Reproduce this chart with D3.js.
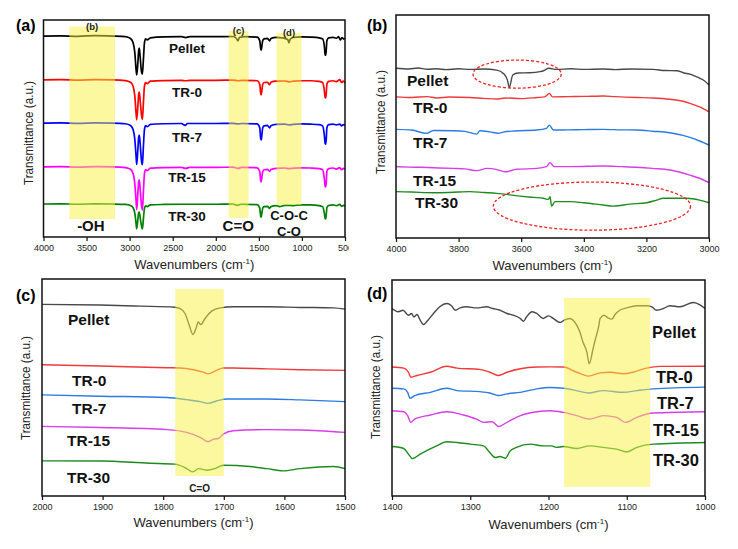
<!DOCTYPE html>
<html><head><meta charset="utf-8">
<script src="https://cdn.jsdelivr.net/npm/d3@7"></script>
<style>
body{margin:0;background:#fff;}
text{font-family:"Liberation Sans",Arial,sans-serif;}
</style></head>
<body><svg id="c" width="738" height="549"></svg>
<script>
// ---------- DATA ----------
const seriesNames = ["Pellet","TR-0","TR-7","TR-15","TR-30"];
// Panel (a): full spectrum 4000-500 cm-1
const aTicks = [4000,3500,3000,2500,2000,1500,1000,500];
const aPellet = [[4000,92.6],[3800,92.7],[3600,92.5],[3400,92.8],[3200,92.6],[3050,92.3],[2990,91.5],[2960,89.5],[2940,85],[2925,77],[2918,74.7],[2905,80],[2895,86],[2888,87],[2878,83],[2862,76],[2852,75.1],[2840,82],[2828,89.5],[2815,91.3],[2795,90.8],[2760,91.8],[2600,92.2],[2400,92.3],[2350,91.9],[2300,92.3],[2000,92.3],[1800,92.4],[1760,91.5],[1742,90.4],[1725,92],[1650,92.3],[1520,92.1],[1490,90.5],[1478,86.6],[1472,86.1],[1465,88],[1455,90.5],[1440,91.3],[1400,91.5],[1375,90.4],[1360,91.5],[1300,92],[1230,91.8],[1190,91.4],[1165,91],[1150,89.5],[1138,91],[1100,92],[1000,92.2],[900,92.1],[800,91.8],[760,91.3],[740,88],[730,84],[724,83.8],[718,86],[710,90.5],[690,91.8],[640,92],[600,91.6],[575,92.3],[555,90.8],[535,91.9],[515,91.2],[500,91.6]];
const aTR0 = [[4000,72.4],[3800,72.5],[3600,72.3],[3400,72.5],[3200,72.4],[3050,72.1],[2990,71.3],[2960,69.5],[2940,65],[2925,57],[2918,54],[2905,60],[2895,66],[2888,66.8],[2878,63],[2862,56],[2852,54.2],[2840,62],[2828,69.5],[2815,71.2],[2795,70.7],[2760,71.8],[2600,72.1],[2400,72.2],[2350,72.0],[2300,72.2],[2000,72.2],[1800,72.3],[1740,72.0],[1700,72.2],[1520,72.0],[1490,70.4],[1478,66],[1472,65.5],[1465,67.5],[1455,70.4],[1440,71.2],[1400,71.3],[1375,70.2],[1360,71.3],[1300,71.8],[1200,71.9],[1150,71.5],[1100,71.8],[1000,72],[900,72],[800,71.7],[760,71.2],[740,67.5],[730,64.2],[724,64.1],[718,66],[710,70.5],[690,71.7],[640,72],[600,71.6],[560,72.5],[540,71.2],[520,71.8],[500,71.0]];
const aTR7 = [[4000,52.5],[3800,52.6],[3600,52.4],[3400,52.6],[3200,52.5],[3050,52.2],[2990,51.4],[2960,49.5],[2940,45],[2925,37],[2918,33.4],[2905,40],[2895,46],[2888,47],[2878,43],[2862,35],[2852,33.3],[2840,42],[2828,49.5],[2815,51.3],[2795,50.8],[2760,51.9],[2600,52.2],[2400,52.3],[2355,51.4],[2330,52.3],[2000,52.3],[1800,52.4],[1740,52.1],[1700,52.3],[1520,52.1],[1490,50.3],[1478,45.2],[1472,44.7],[1465,47],[1455,50.3],[1440,51.2],[1400,51.4],[1375,50.3],[1360,51.3],[1300,51.9],[1200,52],[1150,51.7],[1100,51.9],[1000,52.1],[900,52],[800,51.8],[760,51.2],[740,47],[730,43],[724,42.8],[718,45],[710,50.5],[690,51.8],[640,52],[600,51.7],[560,52],[540,51.2],[520,51.8],[500,51.5]];
const aTR15 = [[4000,32.3],[3800,32.4],[3600,32.2],[3400,32.4],[3200,32.3],[3050,32.0],[2990,31.2],[2960,29.3],[2940,24.5],[2925,16.5],[2918,12.6],[2905,20],[2895,25.5],[2888,26.3],[2878,22],[2862,14.5],[2852,12.4],[2840,21],[2828,29.2],[2815,31.1],[2795,30.6],[2760,31.7],[2600,32],[2400,32.1],[2350,31.6],[2300,32.1],[2000,32.1],[1800,32.2],[1740,31.6],[1700,32.1],[1520,31.9],[1490,30.2],[1478,25.8],[1472,25.4],[1465,27.5],[1455,30.2],[1440,31],[1400,31.2],[1375,30.2],[1360,31.1],[1300,31.6],[1200,31.8],[1150,31.5],[1100,31.7],[1000,31.9],[900,31.8],[800,31.5],[760,31],[740,27],[730,23.3],[724,23.1],[718,25],[710,30.3],[690,31.5],[640,31.8],[600,31.3],[560,32],[540,31],[520,31.6],[500,31.3]];
const aTR30 = [[4000,15.2],[3800,15.3],[3600,15.1],[3400,15.3],[3200,15.2],[3050,15.0],[2990,14.5],[2960,13.5],[2940,11],[2925,6],[2918,3.8],[2905,8],[2895,11.2],[2888,11.5],[2878,9],[2862,5],[2852,3.7],[2840,8.5],[2828,13.2],[2815,14.3],[2795,14],[2760,14.8],[2600,15],[2400,15.1],[2000,15.1],[1800,15.2],[1750,14.6],[1725,14.9],[1700,15.1],[1520,14.9],[1490,13.3],[1478,9.5],[1472,9.2],[1465,11],[1455,13.3],[1440,14],[1400,14.1],[1375,13.2],[1360,14],[1300,14.5],[1260,14.0],[1200,14.6],[1100,14.5],[1000,14.8],[900,14.8],[800,14.5],[760,14],[740,11],[730,8.5],[724,8.3],[718,10],[710,13.6],[690,14.5],[640,14.8],[600,14.4],[560,15],[540,14.1],[520,14.6],[500,14.3]];
const aBands = [[3700,3170,97,8.3],[1850,1620,95,8.8],[1295,1005,94,14.7]]; // [from, to, top a.u., bottom a.u.]
const aBandTags = ["(b)","(c)","(d)"];
const aGroupLabels = [["-OH",3450,2.8],["C=O",1740,2.8],["C-O-C",1150,7.9],["C-O",1150,0.4]]; // [text, cm-1, a.u. of baseline]

// Panel (b): 4000-3000 cm-1
const bTicks = [4000,3800,3600,3400,3200,3000];
const bPellet = [[4000,76.1],[3960,75.8],[3930,76.2],[3900,75.7],[3870,75.9],[3840,75.5],[3800,75.9],[3764,75.6],[3720,75.8],[3678,75.3],[3657,73.8],[3644,70.8],[3638,67.5],[3627,73.1],[3610,74.0],[3572,74.1],[3540,74.6],[3529,75.0],[3512,76.1],[3487,75.6],[3440,75.9],[3400,75.6],[3338,75.8],[3300,75.5],[3250,75.8],[3179,75.6],[3140,75.1],[3103,75.0],[3080,74.0],[3061,73.5],[3045,72.6],[3029,71.6],[3015,70.5],[3000,68.6]];
const bTR0 = [[4000,63.3],[3950,63.0],[3900,63.4],[3870,62.8],[3830,63.2],[3764,63.0],[3720,62.6],[3678,62.3],[3650,62.8],[3600,62.5],[3550,63.0],[3525,63.3],[3510,64.8],[3500,63.3],[3450,63.4],[3400,63.5],[3338,63.7],[3300,63.4],[3231,63.0],[3180,62.8],[3125,62.2],[3080,61.2],[3061,60.4],[3030,58.8],[3000,56.6]];
const bTR7 = [[4000,48.7],[3950,48.4],[3902,46.9],[3880,48.2],[3817,48.1],[3780,47.8],[3742,46.6],[3732,48.1],[3700,47.6],[3673,47.0],[3657,47.5],[3620,48.0],[3550,48.4],[3519,49.2],[3510,50.6],[3497,48.4],[3450,48.5],[3400,48.6],[3338,48.7],[3280,48.5],[3231,48.4],[3180,47.9],[3125,47.2],[3061,45.1],[3030,43.5],[3000,41.7]];
const bTR15 = [[4000,32.0],[3960,31.8],[3923,31.7],[3880,31.5],[3817,31.2],[3780,31.0],[3742,30.2],[3710,31.2],[3680,30.8],[3652,29.7],[3614,30.8],[3550,31.2],[3519,32.0],[3508,33.8],[3495,32.0],[3440,32.0],[3338,32.3],[3280,32.0],[3231,31.7],[3180,31.2],[3125,30.5],[3061,28.2],[3030,26.8],[3000,24.8]];
const bTR30 = [[4000,20.8],[3950,20.6],[3870,20.3],[3800,20.6],[3764,20.8],[3720,20.4],[3678,20.0],[3604,18.8],[3560,18.2],[3529,17.8],[3513,17.3],[3508,18.5],[3503,14.3],[3492,16.3],[3444,16.3],[3400,15.8],[3338,14.8],[3306,14.3],[3252,15.2],[3199,15.8],[3167,17.0],[3146,17.8],[3071,17.8],[3030,17.0],[3000,15.8]];
const bEllipses = [[3613,141,73.5,6.3],[3374,315,14.3,10.8]]; // [centre cm-1, half-width cm-1, centre a.u., half-height a.u.]

// Panel (c): 2000-1500 cm-1
const cTicks = [2000,1900,1800,1700,1600,1500];
const cPellet = [[2000,88.3],[1904,88.0],[1838,87.5],[1781,87.0],[1772,86.4],[1764,84.1],[1757,78.7],[1751,74.4],[1746,77.2],[1742,80.2],[1738,79.0],[1731,81.8],[1720,85.2],[1706,86.7],[1684,87.2],[1629,87.2],[1574,86.9],[1519,86.7],[1500,86.1]];
const cTR0 = [[2000,60.5],[1904,59.9],[1794,59.1],[1772,59.0],[1750,58.2],[1734,57.1],[1726,56.3],[1712,57.9],[1701,59.0],[1684,59.0],[1629,58.6],[1574,58.2],[1500,57.9]];
const cTR7 = [[2000,46.6],[1904,46.0],[1794,45.4],[1761,44.4],[1739,43.5],[1726,42.7],[1712,43.8],[1695,44.7],[1629,44.7],[1574,44.3],[1500,43.5]];
const cTR15 = [[2000,32.1],[1904,31.6],[1794,30.6],[1761,29.3],[1739,27.0],[1726,25.0],[1717,26.2],[1709,26.5],[1701,28.5],[1684,30.1],[1629,30.6],[1574,30.4],[1500,29.3]];
const cTR30 = [[2000,16.2],[1904,16.1],[1822,15.1],[1781,14.7],[1764,13.1],[1751,11.1],[1742,12.6],[1728,11.9],[1715,12.6],[1701,14.2],[1657,13.6],[1629,12.6],[1602,11.6],[1574,12.6],[1519,13.6],[1500,12.6]];
const cBand = [1780,1700,95.4,9.2];

// Panel (d): 1400-1000 cm-1
const dTicks = [1400,1300,1200,1100,1000];
const dPellet = [[1400,86.8],[1392,85.3],[1386,86.0],[1379,83.7],[1375,84.5],[1372,82.9],[1368,84.0],[1364,81.4],[1360,79.4],[1354,81.4],[1347,84.5],[1339,87.6],[1330,89.1],[1324,88.1],[1319,86.0],[1313,87.1],[1305,87.6],[1292,87.1],[1279,87.6],[1271,86.8],[1262,86.0],[1253,84.5],[1245,83.7],[1236,82.2],[1232,80.9],[1228,83.0],[1221,85.3],[1215,84.5],[1207,82.2],[1200,83.4],[1194,82.2],[1185,80.3],[1180,81.4],[1173,82.2],[1164,79.1],[1160,76.0],[1156,71.3],[1151,66.7],[1148,61.2],[1143,68.2],[1141,71.3],[1136,78.3],[1134,82.2],[1129,83.7],[1124,82.5],[1119,81.9],[1115,84.0],[1109,86.0],[1100,87.1],[1087,88.1],[1075,88.1],[1068,87.6],[1062,86.0],[1053,86.8],[1045,88.1],[1032,87.6],[1015,89.6],[1006,88.4],[1000,86.8]];
const dTR0 = [[1400,59.7],[1385,59.2],[1379,57.3],[1376,55.0],[1368,55.8],[1351,57.3],[1330,60.1],[1317,59.2],[1288,58.6],[1275,57.3],[1264,55.8],[1253,57.3],[1236,58.9],[1215,59.7],[1198,59.8],[1181,59.7],[1164,57.3],[1149,55.5],[1134,57.0],[1121,57.3],[1104,56.6],[1092,57.3],[1075,59.2],[1057,60.0],[1000,60.1]];
const dTR7 = [[1400,49.9],[1385,49.6],[1380,48.0],[1377,45.2],[1371,46.5],[1351,48.0],[1330,49.9],[1317,48.8],[1288,48.3],[1275,47.7],[1264,46.5],[1253,47.3],[1236,48.0],[1215,49.6],[1198,50.2],[1181,49.9],[1164,48.8],[1149,47.7],[1130,48.8],[1104,48.0],[1087,48.8],[1066,49.6],[1000,50.4]];
const dTR15 = [[1400,39.5],[1385,39.0],[1380,37.2],[1376,34.1],[1371,35.6],[1351,37.5],[1330,39.0],[1309,37.5],[1292,35.6],[1283,34.1],[1272,34.4],[1264,32.2],[1253,34.1],[1236,37.2],[1215,39.0],[1198,39.5],[1181,38.7],[1164,37.2],[1147,35.6],[1130,37.2],[1113,36.4],[1102,34.1],[1087,36.4],[1066,38.4],[1000,39.0]];
const dTR30 = [[1400,22.9],[1385,22.0],[1379,19.4],[1374,17.3],[1364,19.4],[1343,23.2],[1330,25.1],[1317,24.8],[1300,24.0],[1283,23.2],[1275,20.1],[1268,17.8],[1262,18.3],[1255,17.5],[1249,20.9],[1241,22.5],[1223,24.0],[1207,23.2],[1196,23.2],[1190,22.5],[1181,22.9],[1164,22.0],[1147,23.2],[1130,22.5],[1113,21.7],[1100,20.4],[1087,22.5],[1066,24.0],[1000,24.8]];
const dBand = [1180,1070,91.7,4.2];

// ---------- DRAW ----------
const svg = d3.select("#c");
const colorsA = ["#000000","#ff0000","#0000ff","#ff00ff","#008000"];
const colorsB = ["#484848","#f03a3a","#2a7be2","#d83ee8","#1c8c1c"];
const bandFill = "#f7f141";

function panel(o){
  const g = svg.append("g");
  const x = d3.scaleLinear().domain(o.domain).range([o.L, o.R]);
  const y = d3.scaleLinear().domain([0,100]).range([o.B, o.T]);
  const line = d3.line().x(d=>x(d[0])).y(d=>y(d[1])).curve(d3.curveMonotoneX);
  o.series.forEach((s,i)=>{
    g.append("path").attr("d", line(s)).attr("fill","none")
     .attr("stroke", o.colors[i]).attr("stroke-width", o.lw).attr("stroke-linejoin","round");
  });
  (o.bands||[]).forEach(b=>{
    g.append("rect").attr("x", x(b[0])).attr("width", x(b[1])-x(b[0]))
     .attr("y", y(b[2])).attr("height", y(b[3])-y(b[2]))
     .attr("fill", bandFill).attr("opacity", 0.5);
  });
  g.append("rect").attr("x",o.L).attr("y",o.T).attr("width",o.R-o.L).attr("height",o.B-o.T)
   .attr("fill","none").attr("stroke","#111").attr("stroke-width",1.5);
  const ax = g.append("g").attr("transform",`translate(0,${o.B})`);
  if (o.clip){
    svg.append("clipPath").attr("id","clipA").append("rect").attr("x",0).attr("y",0).attr("width",o.clip).attr("height",549);
    ax.attr("clip-path","url(#clipA)");
  }
  const minor = d3.range(o.domain[1], o.domain[0]+0.1, o.minorStep);
  ax.call(d3.axisBottom(x).tickValues(minor).tickSize(2.5).tickFormat(""));
  ax.call(d3.axisBottom(x).tickValues(o.ticks).tickSize(4).tickPadding(4).tickFormat(d3.format("d")));
  ax.selectAll(".domain").remove();
  ax.selectAll("line").attr("stroke","#111").attr("stroke-width",1.2);
  ax.selectAll("text").attr("font-size",9).attr("fill","#222").attr("font-family","Liberation Sans, Arial, sans-serif");
  const xt = g.append("text").attr("x",(o.L+o.R)/2).attr("y",o.xTitleY).attr("text-anchor","middle")
    .attr("font-size",13).attr("fill","#222");
  xt.append("tspan").text("Wavenumbers (cm");
  xt.append("tspan").text("-1").attr("font-size",8).attr("dy",-5);
  xt.append("tspan").text(")").attr("dy",5);
  g.append("text").attr("transform",`translate(${o.yTitleX},${o.yTitleY}) rotate(-90)`)
    .attr("text-anchor","middle").attr("font-size",12).attr("fill","#222")
    .attr("textLength",104).attr("lengthAdjust","spacingAndGlyphs")
    .text("Transmittance (a.u.)");
  g.append("text").attr("x",o.tagX).attr("y",o.tagY).attr("font-size",16).attr("font-weight","bold").text(o.tag);
  o.labels.forEach((l,i)=>{
    g.append("text").attr("x",l[0]).attr("y",l[1]).attr("text-anchor",o.labelAnchor)
     .attr("font-size",o.labelSize).attr("font-weight","bold").attr("fill","#111").text(seriesNames[i]);
  });
  return {g,x,y};
}

// (a)
const A = panel({domain:[4000,500], L:43.5, R:345, T:20, B:237, lw:1.7, colors:colorsA,
  series:[aPellet,aTR0,aTR7,aTR15,aTR30], bands:aBands, ticks:aTicks, minorStep:250,
  clip:349, xTitleY:269, yTitleX:33, yTitleY:133, tag:"(a)", tagX:16, tagY:31,
  labels:[[187,53],[187,97],[187,142],[187,182],[187,221]], labelAnchor:"middle", labelSize:13.5});
aBandTags.forEach((t,i)=>{
  const b = aBands[i];
  A.g.append("text").attr("x",A.x((b[0]+b[1])/2)).attr("y",A.y(b[2])+3).attr("text-anchor","middle")
    .attr("font-size",9.5).attr("font-weight","bold").attr("fill","#222").text(t);
});
aGroupLabels.forEach((t,i)=>{
  A.g.append("text").attr("x",A.x(t[1])).attr("y",A.y(t[2])).attr("text-anchor","middle")
   .attr("font-size", i<2 ? 15 : 13).attr("font-weight","bold").attr("fill","#111").text(t[0]);
});

// (b)
const Bp = panel({domain:[4000,3000], L:396, R:709, T:15, B:238, lw:1.4, colors:colorsB,
  series:[bPellet,bTR0,bTR7,bTR15,bTR30], ticks:bTicks, minorStep:100,
  xTitleY:270, yTitleX:385, yTitleY:122, tag:"(b)", tagX:367, tagY:31,
  labels:[[407,86],[413,113],[413,148],[413,186],[415,208]], labelAnchor:"start", labelSize:15.5});
bEllipses.forEach(e=>{
  Bp.g.append("ellipse").attr("cx",Bp.x(e[0])).attr("cy",Bp.y(e[2]))
    .attr("rx",Math.abs(Bp.x(e[0]+e[1])-Bp.x(e[0]))).attr("ry",Math.abs(Bp.y(e[2]+e[3])-Bp.y(e[2])))
    .attr("fill","none").attr("stroke","#f02020").attr("stroke-width",1.3).attr("stroke-dasharray","3,2");
});

// (c)
const Cp = panel({domain:[2000,1500], L:42, R:345, T:279, B:496, lw:1.4, colors:colorsB,
  series:[cPellet,cTR0,cTR7,cTR15,cTR30], bands:[cBand], ticks:cTicks, minorStep:50,
  xTitleY:527, yTitleX:30, yTitleY:388, tag:"(c)", tagX:16, tagY:301,
  labels:[[68,325],[72,386],[72,414],[67,446],[67,483]], labelAnchor:"start", labelSize:15.5});
Cp.g.append("text").attr("x",Cp.x(1740)).attr("y",Cp.y(cBand[3])+16).attr("text-anchor","middle")
  .attr("font-size",10).attr("font-weight","bold").attr("fill","#222").text("C=O");

// (d)
panel({domain:[1400,1000], L:392, R:705, T:280, B:496, lw:1.4, colors:colorsB,
  series:[dPellet,dTR0,dTR7,dTR15,dTR30], bands:[dBand], ticks:dTicks, minorStep:50,
  xTitleY:529, yTitleX:380, yTitleY:387, tag:"(d)", tagX:367, tagY:299,
  labels:[[652,338],[656,383],[657,409],[653,436],[653,466]], labelAnchor:"start", labelSize:16.5});
</script></body></html>
